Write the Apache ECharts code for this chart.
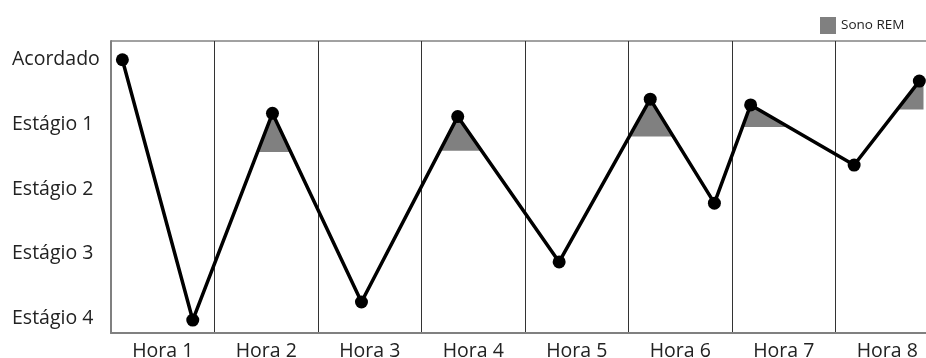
<!DOCTYPE html>
<html>
<head>
<meta charset="utf-8">
<script src="https://cdn.jsdelivr.net/npm/echarts@6/dist/echarts.min.js"></script>
<style>
html,body{margin:0;padding:0;background:#fff;}
#chart{width:926px;height:358px;}
</style>
</head>
<body>
<div id="chart"></div>
<script>
// Categories (hours) and stage labels
var hourLabels = ['Hora 1','Hora 2','Hora 3','Hora 4','Hora 5','Hora 6','Hora 7','Hora 8'];
var stageLabels = ['Acordado','Estágio 1','Estágio 2','Estágio 3','Estágio 4'];
// Hypnogram points: time (hours from start) and stage depth (0 = Acordado, 4 = Estágio 4)
var pointTimes  = [0.11, 0.79, 1.56, 2.42, 3.35, 4.33, 5.21, 5.83, 6.18, 7.18, 7.81];
var pointStages = [0.00, 4.03, 0.83, 3.75, 0.88, 3.13, 0.61, 2.22, 0.70, 1.63, 0.33];
// REM periods: peak point index, lower stage level of the shaded area, optional end time
var remPeaks  = [2, 4, 6, 8, 10];
var remLevels = [1.43, 1.41, 1.19, 1.04, 0.77];
var remEnds   = [null, null, null, null, 7.85];

var lineData = pointTimes.map(function(t,i){ return [t, pointStages[i]]; });

function remPolygon(p, L, endT){
  var pts = [];
  var k = p;
  while (k > 0 && pointStages[k-1] < L) k--;
  if (k > 0) {
    var t = (L - pointStages[k]) / (pointStages[k-1] - pointStages[k]);
    pts.push([pointTimes[k] + t*(pointTimes[k-1]-pointTimes[k]), L]);
  }
  var m = p;
  while (m < pointStages.length-1 && pointStages[m+1] < L) m++;
  for (var i = k; i <= m; i++) pts.push([pointTimes[i], pointStages[i]]);
  if (m < pointStages.length-1) {
    var t2 = (L - pointStages[m]) / (pointStages[m+1] - pointStages[m]);
    pts.push([pointTimes[m] + t2*(pointTimes[m+1]-pointTimes[m]), L]);
  } else if (endT != null) {
    pts.push([endT, pointStages[m]]);
    pts.push([endT, L]);
  }
  return pts;
}

var remData = remPeaks.map(function(p,i){ return [p, remLevels[i], remEnds[i]]; });

var chart = echarts.init(document.getElementById('chart'), null, {renderer:'canvas'});
var font = '"Open Sans", sans-serif';
chart.setOption({
  animation: false,
  legend: {
    left: 815, top: 12,
    itemWidth: 16, itemHeight: 17, itemGap: 10,
    data: [{name:'Sono REM', icon:'rect'}],
    textStyle: {fontFamily: font, fontSize: 13.5, color: '#222'}
  },
  grid: {
    left: 111, top: 41, width: 828, height: 292,
    containLabel: false, outerBoundsMode: 'none',
    show: true, borderColor: '#444', borderWidth: 1, backgroundColor: 'transparent'
  },
  xAxis: {
    type: 'value', min: 0, max: 8, interval: 1,
    axisLine: {show: true, onZero: false, lineStyle: {color: '#808080', width: 2}},
    axisTick: {show: false},
    splitLine: {show: true, lineStyle: {color: '#333', width: 1}},
    axisLabel: {
      customValues: [0.5,1.5,2.5,3.5,4.5,5.5,6.5,7.5],
      formatter: function(v){ return hourLabels[Math.floor(v)]; },
      fontFamily: font, fontSize: 19.5, color: '#222', margin: 8
    }
  },
  yAxis: {
    type: 'value', inverse: true, min: -0.29, max: 4.23,
    axisLine: {show: true, onZero: false, lineStyle: {color: '#808080', width: 2}},
    axisTick: {show: false},
    splitLine: {show: false},
    axisLabel: {
      customValues: [0,1,2,3,4],
      formatter: function(v){ return stageLabels[Math.round(v)]; },
      align: 'left', margin: 99,
      fontFamily: font, fontSize: 19.5, color: '#222'
    }
  },
  series: [
    {
      name: 'Sono REM', type: 'custom', z: 1,
      itemStyle: {color: '#808080'},
      data: remData,
      renderItem: function(params, api){
        var d = remData[params.dataIndex];
        var poly = remPolygon(d[0], d[1], d[2]).map(function(pt){ return api.coord(pt); });
        return {type:'polygon', shape:{points: poly}, style:{fill:'#808080'}};
      }
    },
    {
      name: 'Hipnograma', type: 'line', z: 3,
      data: lineData,
      symbol: 'circle', symbolSize: 13,
      itemStyle: {color: '#000'},
      lineStyle: {color: '#000', width: 3.5}
    }
  ]
});
</script>
</body>
</html>
